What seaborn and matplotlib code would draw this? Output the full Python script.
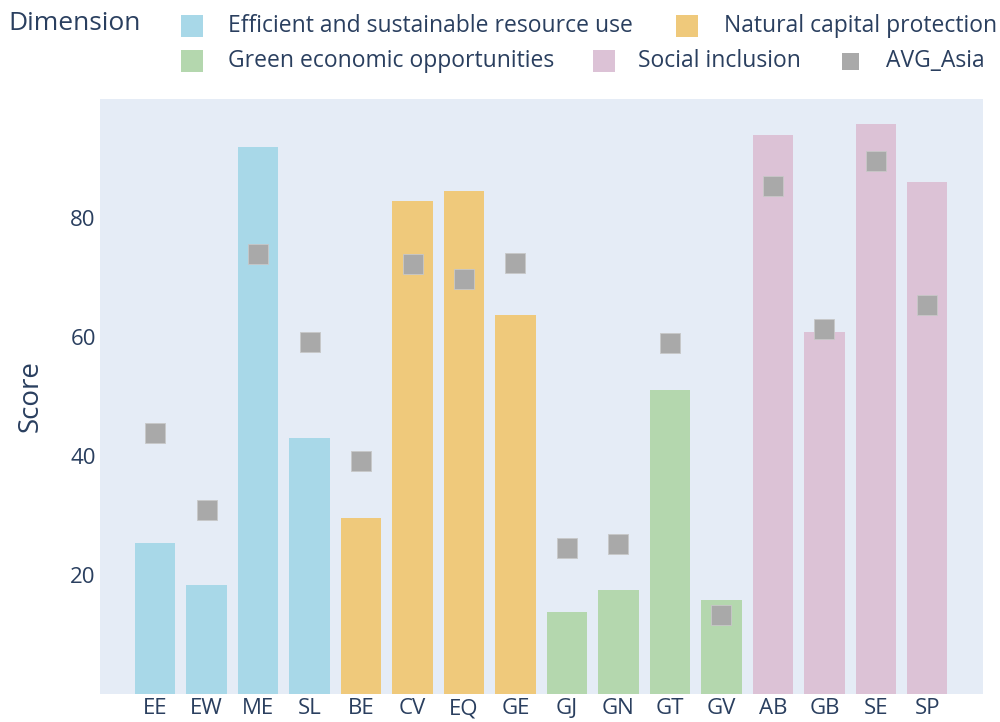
import pandas as pd
import matplotlib
matplotlib.use('Agg')
import matplotlib.pyplot as plt
import seaborn as sns
from matplotlib.patches import Rectangle

# Data
indicators = ['EE', 'EW', 'ME', 'SL', 'BE', 'CV', 'EQ', 'GE',
              'GJ', 'GN', 'GT', 'GV', 'AB', 'GB', 'SE', 'SP']
dimension_names = ['Efficient and sustainable resource use', 'Natural capital protection',
                   'Green economic opportunities', 'Social inclusion']
dimensions = [dimension_names[0]] * 4 + [dimension_names[1]] * 4 + \
             [dimension_names[2]] * 4 + [dimension_names[3]] * 4
scores = [25.4, 18.3, 91.9, 43.0, 29.6, 82.9, 84.5, 63.7,
          13.8, 17.5, 51.1, 15.8, 93.9, 60.8, 95.8, 86.1]
avg_asia = [43.9, 30.9, 73.9, 59.2, 39.2, 72.3, 69.7, 72.4,
            24.5, 25.2, 59.0, 13.3, 85.4, 61.3, 89.6, 65.4]

colors = ['#A8D8E8', '#EFC97B', '#B4D7AE', '#DCC2D6']
avg_color = '#A9A9A9'
text_color = '#2A3F5F'

df = pd.DataFrame({'indicator': indicators, 'dimension': dimensions,
                   'score': scores, 'avg': avg_asia})

sns.set_style('white')
plt.rcParams['font.family'] = ['Open Sans', 'DejaVu Sans']

W, H = 1000, 722
fig = plt.figure(figsize=(W / 100, H / 100), dpi=100)
ax = fig.add_axes([100 / W, 1 - 694 / H, 883 / W, 595 / H])
ax.set_facecolor('#E5ECF6')

sns.barplot(data=df, x='indicator', y='score', hue='dimension',
            palette=dict(zip(dimension_names, colors)), dodge=False,
            saturation=1, width=0.78, edgecolor='none', legend=False, ax=ax)
sns.scatterplot(data=df, x='indicator', y='avg', marker='s', s=190,
                color=avg_color, edgecolor='#C8C8C8', linewidth=0.6,
                legend=False, ax=ax, zorder=3)

ax.set_xlim(-1.07, 16.08)
ax.set_ylim(0, 100)
ax.set_yticks([20, 40, 60, 80])
ax.tick_params(axis='both', length=0, labelsize=16, colors=text_color)
ax.tick_params(axis='x', pad=3)
ax.tick_params(axis='y', pad=3)
ax.set_xlabel('')
ax.set_ylabel('Score', fontsize=20, color=text_color)
ax.yaxis.set_label_coords(-55 / 883, 0.5)
for s in ax.spines.values():
    s.set_visible(False)

# Legend drawn in figure pixels, plotly style
def px(x, y):
    return x / W, 1 - y / H

fig.text(*px(8, 23), 'Dimension', fontsize=19, color=text_color, va='center')
items = [(181, 26, colors[0], 22, dimension_names[0], 228),
         (676, 26, colors[1], 22, dimension_names[1], 724),
         (181, 61, colors[2], 22, dimension_names[2], 228),
         (593, 61, colors[3], 22, dimension_names[3], 638),
         (842, 61, avg_color, 17, 'AVG_Asia', 886)]
for x0, yc, c, size, label, tx in items:
    fig.patches.append(Rectangle(px(x0, yc + size / 2), size / W, size / H,
                                 transform=fig.transFigure, facecolor=c,
                                 edgecolor='none'))
    fig.text(*px(tx, yc), label, fontsize=16.5, color=text_color, va='center')

fig.savefig('out.png', dpi=100)
